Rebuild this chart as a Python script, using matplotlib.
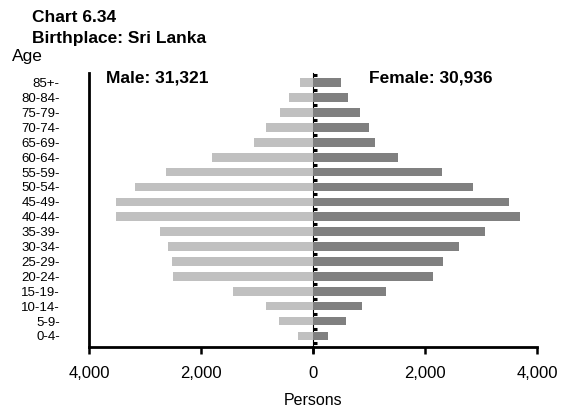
import matplotlib
matplotlib.use("Agg")
import matplotlib.pyplot as plt
import numpy as np

plt.rcParams["font.family"] = ["Liberation Sans", "DejaVu Sans"]

ages = ["0-4", "5-9", "10-14", "15-19", "20-24", "25-29", "30-34", "35-39",
        "40-44", "45-49", "50-54", "55-59", "60-64", "65-69", "70-74",
        "75-79", "80-84", "85+"]
male = [274, 614, 841, 1426, 2499, 2510, 2589, 2732, 3519, 3519, 3179,
        2630, 1807, 1050, 841, 596, 424, 233]
female = [269, 587, 874, 1304, 2142, 2314, 2608, 3080, 3702, 3505, 2852,
          2309, 1514, 1101, 1004, 832, 622, 497]
xticks = [-4000, -2000, 0, 2000, 4000]
xtick_labels = ["4,000", "2,000", "0", "2,000", "4,000"]

fig = plt.figure(figsize=(5.67, 4.12), dpi=100)
ax = fig.add_axes([89 / 567, 1 - 347 / 412, 448 / 567, 274 / 412])

y = np.arange(len(ages))
ax.barh(y, [-m for m in male], height=0.58, color="#c0c0c0")
ax.barh(y, female, height=0.58, color="#808080")

ax.set_xlim(-4000, 4000)
ax.set_ylim(-0.74, 17.65)
ax.set_xticks(xticks)
ax.set_xticklabels(xtick_labels, fontsize=12)
ax.tick_params(axis="x", direction="out", length=5, width=1.8, pad=9)
ax.set_yticks(y)
ax.set_yticklabels([a + "-" for a in ages], fontsize=9.5)
ax.tick_params(axis="y", length=0, pad=21)

for side in ["top", "right"]:
    ax.spines[side].set_visible(False)
for side in ["left", "bottom"]:
    ax.spines[side].set_linewidth(2)

# centre line with ticks at category boundaries
centre = ax.secondary_yaxis(0.5)
centre.set_yticks(np.arange(-0.5, len(ages), 1))
centre.set_yticklabels([])
centre.tick_params(direction="out", length=3, width=2.2)
centre.spines["left"].set_linewidth(1.8)
ax.plot([0, 0], [-0.74, -1.05], color="black", lw=1.8, clip_on=False)

ax.set_xlabel("Persons", fontsize=11.5, labelpad=8)

ax.text(-3700, 17.3, "Male: 31,321", fontsize=12.5, fontweight="bold", va="center")
ax.text(1000, 17.3, "Female: 30,936", fontsize=12.5, fontweight="bold", va="center")

fig.text(32 / 567, 1 - 17 / 412, "Chart 6.34", fontsize=12.5, fontweight="bold", va="center")
fig.text(32 / 567, 1 - 39 / 412, "Birthplace: Sri Lanka", fontsize=12.5, fontweight="bold", va="center")
fig.text(12 / 567, 1 - 57 / 412, "Age", fontsize=12.5, va="center")

fig.savefig("out.png", dpi=100)
plt.close(fig)
